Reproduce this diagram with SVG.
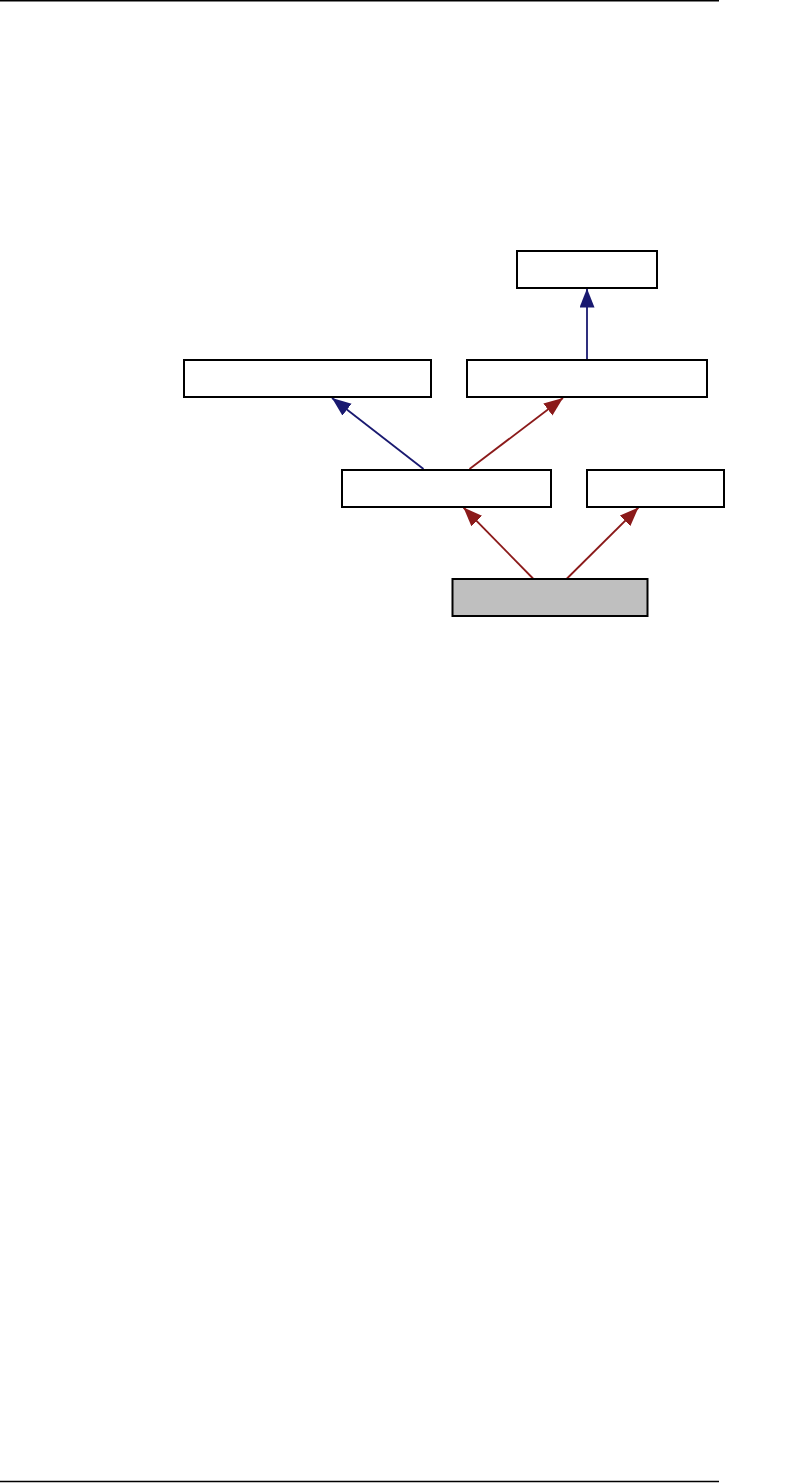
<svg xmlns="http://www.w3.org/2000/svg" width="805" height="1483" viewBox="0 0 805 1483">
<style>
.node rect{fill:#ffffff;stroke:#000000;stroke-width:2}
.node.cur rect{fill:#bfbfbf}
.blue{fill:none;stroke:#191970;stroke-width:1.8}
.red{fill:none;stroke:#8b1a1a;stroke-width:1.8}
.rule{stroke:#000000;stroke-width:1.5}
</style>
<defs>
<marker id="ab" markerUnits="userSpaceOnUse" markerWidth="20" markerHeight="16" refX="19" refY="7.5" orient="auto"><path d="M0,0 L19,7.5 L0,15 z" fill="#191970"/></marker>
<marker id="ar" markerUnits="userSpaceOnUse" markerWidth="20" markerHeight="16" refX="19" refY="7.5" orient="auto"><path d="M0,0 L19,7.5 L0,15 z" fill="#8b1a1a"/></marker>
</defs>
<rect width="805" height="1483" fill="#ffffff"/>
<line class="rule" x1="0" y1="0.75" x2="719" y2="0.75"/>
<line class="rule" x1="0" y1="1481.5" x2="719" y2="1481.5"/>
<g id="edges">
<path class="blue" d="M587,359 L587,288.5" marker-end="url(#ab)"/>
<path class="blue" d="M423.5,469 L332,398" marker-end="url(#ab)"/>
<path class="red" d="M469.5,469 L563,398" marker-end="url(#ar)"/>
<path class="red" d="M533.5,579 L463.5,507.5" marker-end="url(#ar)"/>
<path class="red" d="M566.5,579 L638.5,507.5" marker-end="url(#ar)"/>
</g>
<g id="n_top" class="node"><rect x="517" y="251" width="140" height="37"/></g>
<g id="n_midleft" class="node"><rect x="184" y="360" width="247" height="37"/></g>
<g id="n_midright" class="node"><rect x="467" y="360" width="240" height="37"/></g>
<g id="n_center" class="node"><rect x="342" y="470" width="209" height="37"/></g>
<g id="n_small" class="node"><rect x="587" y="470" width="137" height="37"/></g>
<g id="n_current" class="node cur"><rect x="452.5" y="579" width="195" height="37"/></g>
</svg>
